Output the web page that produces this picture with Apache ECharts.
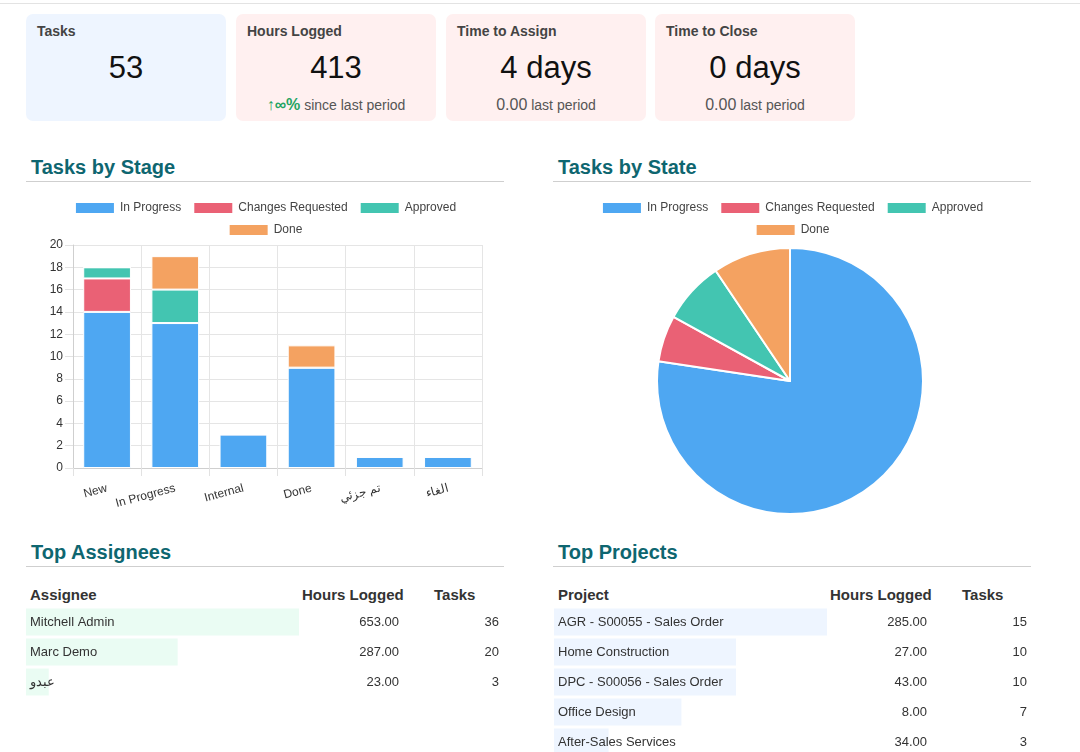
<!DOCTYPE html>
<html>
<head>
<meta charset="utf-8">
<script src="https://cdn.jsdelivr.net/npm/echarts@6/dist/echarts.min.js"></script>
<style>
  body{margin:0;width:1080px;height:752px;overflow:hidden;position:relative;background:#fff;
    font-family:"Liberation Sans",Arial,sans-serif;color:#333;}
  .topline{position:absolute;left:0;top:3px;width:1080px;border-top:1px solid #e3e3e3;}
  .card{position:absolute;top:14px;width:200px;height:107px;border-radius:7px;background:#fff0f0;}
  .card.blue{background:#eef5ff;}
  .card .ttl{position:absolute;left:11px;top:9px;font-size:14px;line-height:16px;font-weight:bold;color:#444;}
  .card .val{position:absolute;left:0;right:0;top:36px;text-align:center;font-size:31px;line-height:36px;color:#111;}
  .card .sub{position:absolute;left:0;right:0;top:82px;text-align:center;font-size:14px;line-height:18px;color:#555;}
  .card .sub b{color:#1fa463;font-size:16px;}
  .card .sub .num{font-size:16px;}
  .sec{position:absolute;width:478px;height:26px;border-bottom:1px solid #cfcfcf;}
  .sec span{position:absolute;left:5px;top:0;font-size:20px;line-height:24px;font-weight:bold;color:#0e6670;}
  .head{position:absolute;top:586px;font-size:15px;line-height:18px;font-weight:bold;color:#333;}
  .chart{position:absolute;}
</style>
</head>
<body>
<div class="topline"></div>

<div class="card blue" style="left:26px"><div class="ttl">Tasks</div><div class="val">53</div></div>
<div class="card" style="left:236px"><div class="ttl">Hours Logged</div><div class="val">413</div>
  <div class="sub"><b>&#8593;&#8734;%</b> since last period</div></div>
<div class="card" style="left:446px"><div class="ttl">Time to Assign</div><div class="val">4 days</div>
  <div class="sub"><span class="num">0.00</span> last period</div></div>
<div class="card" style="left:655px"><div class="ttl">Time to Close</div><div class="val">0 days</div>
  <div class="sub"><span class="num">0.00</span> last period</div></div>

<div class="sec" style="left:26px;top:155px"><span>Tasks by Stage</span></div>
<div class="sec" style="left:553px;top:155px"><span>Tasks by State</span></div>
<div id="stage" class="chart" style="left:26px;top:190px;width:478px;height:330px"></div>
<div id="state" class="chart" style="left:553px;top:190px;width:478px;height:330px"></div>

<div class="sec" style="left:26px;top:540px"><span>Top Assignees</span></div>
<div class="sec" style="left:553px;top:540px"><span>Top Projects</span></div>
<div class="head" style="left:30px">Assignee</div>
<div class="head" style="left:302px">Hours Logged</div>
<div class="head" style="left:434px">Tasks</div>
<div class="head" style="left:558px">Project</div>
<div class="head" style="left:830px">Hours Logged</div>
<div class="head" style="left:962px">Tasks</div>
<div id="assignees" class="chart" style="left:26px;top:607px;width:478px;height:90px"></div>
<div id="projects" class="chart" style="left:554px;top:607px;width:478px;height:150px"></div>

<script>
// stages on the x axis
const stages = ['New', 'In Progress', 'Internal', 'Done', 'تم جزئي', 'الغاء'];
const stateNames = ['In Progress', 'Changes Requested', 'Approved', 'Done'];
const stateColors = ['#4EA7F2', '#EA6175', '#43C5B1', '#F4A261'];

// tasks per stage, one array per state
const inProgress = [14, 13, 3, 9, 1, 1];
const changesRequested = [3, 0, 0, 0, 0, 0];
const approved = [1, 3, 0, 0, 0, 0];
const done = [0, 3, 0, 2, 0, 0];

// tasks per state (pie)
const stateCounts = [41, 3, 4, 5];

// top assignees
const assigneeNames = ['Mitchell Admin', 'Marc Demo', 'عبدو'];
const assigneeHours = [653, 287, 23];
const assigneeTasks = [36, 20, 3];

// top projects
const projectNames = ['AGR - S00055 - Sales Order', 'Home Construction', 'DPC - S00056 - Sales Order', 'Office Design', 'After-Sales Services'];
const projectHours = [285, 27, 43, 8, 34];
const projectTasks = [15, 10, 10, 7, 3];

const font = '"Liberation Sans", Arial, sans-serif';

// legend wraps in two centred rows, like the original
function legends() {
  const base = {
    left: 'center', itemWidth: 40, itemHeight: 12, itemGap: 11, icon: 'rect',
    textStyle: {fontSize: 12, color: '#444', fontFamily: font}
  };
  return [
    Object.assign({data: stateNames.slice(0, 3), top: 6}, base),
    Object.assign({data: stateNames.slice(3), top: 28}, base)
  ];
}

const stageChart = echarts.init(document.getElementById('stage'));
const stageSeries = [inProgress, changesRequested, approved, done].map((d, i) => ({
  name: stateNames[i], type: 'bar', stack: 'tasks', data: d, barWidth: '70%',
  itemStyle: {color: stateColors[i], borderColor: '#fff', borderWidth: 1}
}));
stageChart.setOption({
  animation: false,
  textStyle: {fontFamily: font},
  legend: legends(),
  grid: {left: 47, right: 22, top: 55, bottom: 52},
  xAxis: {
    type: 'category', data: stages,
    axisLine: {lineStyle: {color: '#cfcfcf'}},
    axisTick: {show: true, length: 8, lineStyle: {color: '#e2e2e2'}},
    splitLine: {show: true, lineStyle: {color: '#e5e5e5'}},
    axisLabel: {rotate: 15, color: '#333', fontSize: 12, margin: 20, interval: 0}
  },
  yAxis: {
    type: 'value', min: 0, max: 20, interval: 2,
    axisLine: {show: true, lineStyle: {color: '#cfcfcf'}},
    axisTick: {show: true, length: 8, lineStyle: {color: '#e2e2e2'}},
    splitLine: {lineStyle: {color: '#e5e5e5'}},
    axisLabel: {color: '#333', fontSize: 12, margin: 10}
  },
  series: stageSeries
});

const stateChart = echarts.init(document.getElementById('state'));
stateChart.setOption({
  animation: false,
  textStyle: {fontFamily: font},
  color: stateColors,
  legend: legends(),
  series: [{
    type: 'pie', center: [237, 191], radius: 133, startAngle: 90, clockwise: true,
    label: {show: false}, labelLine: {show: false},
    itemStyle: {borderColor: '#fff', borderWidth: 2},
    emphasis: {disabled: true},
    data: stateNames.map((n, i) => ({name: n, value: stateCounts[i]}))
  }]
});

// tables: a light bar per row sized by tasks, text columns from right-side axes
function tableOption(names, hours, tasks, color) {
  const rowAxis = (data, margin) => ({
    type: 'category', inverse: true, position: 'right', data: data,
    axisLine: {show: false}, axisTick: {show: false}, splitLine: {show: false},
    axisLabel: {align: 'right', margin: margin, color: '#333', fontSize: 13, fontFamily: font}
  });
  return {
    animation: false,
    grid: {left: 0, top: 0, width: 273, height: names.length * 30},
    xAxis: {type: 'value', min: 0, max: Math.max(...tasks), show: false},
    yAxis: [
      {type: 'category', inverse: true, data: names, show: false},
      rowAxis(hours.map(h => h.toFixed(2)), 100),
      rowAxis(tasks.map(String), 200)
    ],
    series: [{
      type: 'bar', data: tasks, barWidth: 27, silent: true,
      itemStyle: {color: color},
      label: {
        show: true, position: 'insideLeft', distance: 4,
        formatter: p => names[p.dataIndex],
        color: '#333', fontSize: 13, fontFamily: font
      }
    }]
  };
}

echarts.init(document.getElementById('assignees'))
  .setOption(tableOption(assigneeNames, assigneeHours, assigneeTasks, '#eafcf3'));
echarts.init(document.getElementById('projects'))
  .setOption(tableOption(projectNames, projectHours, projectTasks, '#eef5ff'));
</script>
</body>
</html>
